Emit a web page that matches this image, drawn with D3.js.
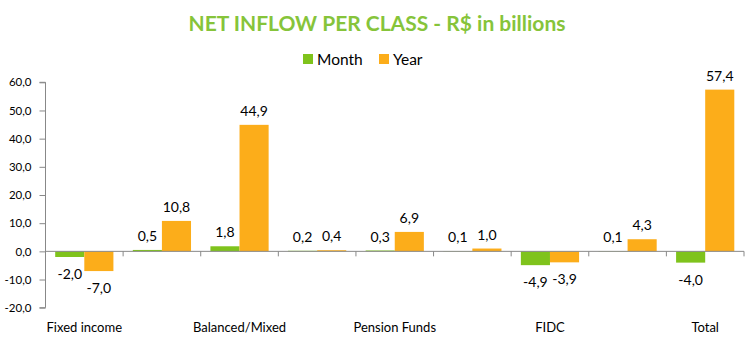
<!DOCTYPE html>
<html><head><meta charset="utf-8">
<script src="https://cdn.jsdelivr.net/npm/d3@7"></script>
<style>body{margin:0;background:#fff}svg{display:block}</style>
</head><body>
<script>
const categories = ["Fixed income","Equity","Balanced/Mixed","FX","Pension Funds","ETF","FIDC","Others","Total"];
const shownLabels = ["Fixed income","Balanced/Mixed","Pension Funds","FIDC","Total"];
const monthValues = [-2.0, 0.5, 1.8, 0.2, 0.3, 0.1, -4.9, 0.1, -4.0];
const yearValues = [-7.0, 10.8, 44.9, 0.4, 6.9, 1.0, -3.9, 4.3, 57.4];
const seriesNames = ["Month","Year"];
const yTicks = [-20,-10,0,10,20,30,40,50,60];

const W = 751, H = 356;
const colors = ["#7fc31c", "#fcad1a"];
const font = "Lato, 'Liberation Sans', sans-serif";
const fmt = v => v.toFixed(1).replace(".", ",");

const svg = d3.select("body").append("svg").attr("width", W).attr("height", H);
const m = {left: 45.5, right: 744, top: 82.3, bottom: 307.7};

const x = d3.scaleBand().domain(categories).range([m.left, m.right]).paddingInner(0.25).paddingOuter(0.125);
const xOuter = d3.scaleBand().domain(categories).range([m.left, m.right]);
const xs = d3.scaleBand().domain(seriesNames).range([0, x.bandwidth()]);
const y = d3.scaleLinear().domain([-20, 60]).range([m.bottom, m.top]);

// title
svg.append("text").attr("x", 377).attr("y", 31).attr("text-anchor", "middle")
  .attr("font-family", font).attr("font-weight", "bold").attr("font-size", 21)
  .attr("fill", "#86c43a").text("NET INFLOW PER CLASS - R$ in billions");

// legend
const leg = svg.append("g");
const legItems = [{n: "Month", x: 303}, {n: "Year", x: 379}];
legItems.forEach((d, i) => {
  leg.append("rect").attr("x", d.x).attr("y", 54).attr("width", 10).attr("height", 10).attr("fill", colors[i]);
  leg.append("text").attr("x", d.x + 14).attr("y", 65).attr("font-family", font).attr("font-size", 15.5)
    .attr("fill", "#000").text(d.n);
});

// y axis
const yAxis = d3.axisLeft(y).tickValues(yTicks).tickSize(6).tickFormat(fmt);
const gy = svg.append("g").attr("transform", `translate(${m.left},0)`).call(yAxis);
gy.select(".domain").attr("stroke", "#888").attr("d", `M-6,${m.top}H0V${m.bottom}H-6`);
gy.selectAll(".tick line").attr("stroke", "#888");
gy.selectAll(".tick text").attr("font-family", font).attr("font-size", 11.5).attr("fill", "#000").attr("x", -14);

// bars
const data = categories.map((c, i) => ({c, vals: [monthValues[i], yearValues[i]]}));
const groups = svg.append("g").selectAll("g").data(data).join("g")
  .attr("transform", d => `translate(${x(d.c)},0)`);
groups.selectAll("rect").data(d => d.vals.map((v, j) => ({v, s: seriesNames[j], j}))).join("rect")
  .attr("x", d => xs(d.s)).attr("width", xs.bandwidth())
  .attr("y", d => y(Math.max(0, d.v))).attr("height", d => Math.abs(y(d.v) - y(0)))
  .attr("fill", d => colors[d.j]);
groups.selectAll("text").data(d => d.vals.map((v, j) => ({v, s: seriesNames[j], j}))).join("text")
  .attr("x", d => xs(d.s) + xs.bandwidth() / 2)
  .attr("y", d => d.v >= 0 ? y(d.v) - 9 : y(d.v) + 22)
  .attr("text-anchor", "middle").attr("font-family", font).attr("font-size", 14).attr("fill", "#000")
  .text(d => fmt(d.v));

// x axis at zero
const xAxis = d3.axisBottom(xOuter).tickSize(0).tickFormat(() => "");
const gx = svg.append("g").attr("transform", `translate(0,${y(0)})`).call(xAxis);
gx.select(".domain").attr("stroke", "#888").attr("d", `M${m.left},0H${m.right}`);
gx.selectAll(".tick").remove();
// category boundary ticks
const bounds = categories.map(c => xOuter(c) + xOuter.bandwidth()).slice(0, categories.length - 1).concat([m.right]);
gx.selectAll("line.bt").data(bounds).join("line").attr("class", "bt")
  .attr("x1", d => d).attr("x2", d => d).attr("y1", 0).attr("y2", 5).attr("stroke", "#888");

// category labels (every other, as in source)
svg.append("g").selectAll("text").data(shownLabels).join("text")
  .attr("x", d => xOuter(d) + xOuter.bandwidth() / 2).attr("y", 332)
  .attr("text-anchor", "middle").attr("font-family", font).attr("font-size", 13).attr("fill", "#000")
  .text(d => d);
</script>
</body></html>
